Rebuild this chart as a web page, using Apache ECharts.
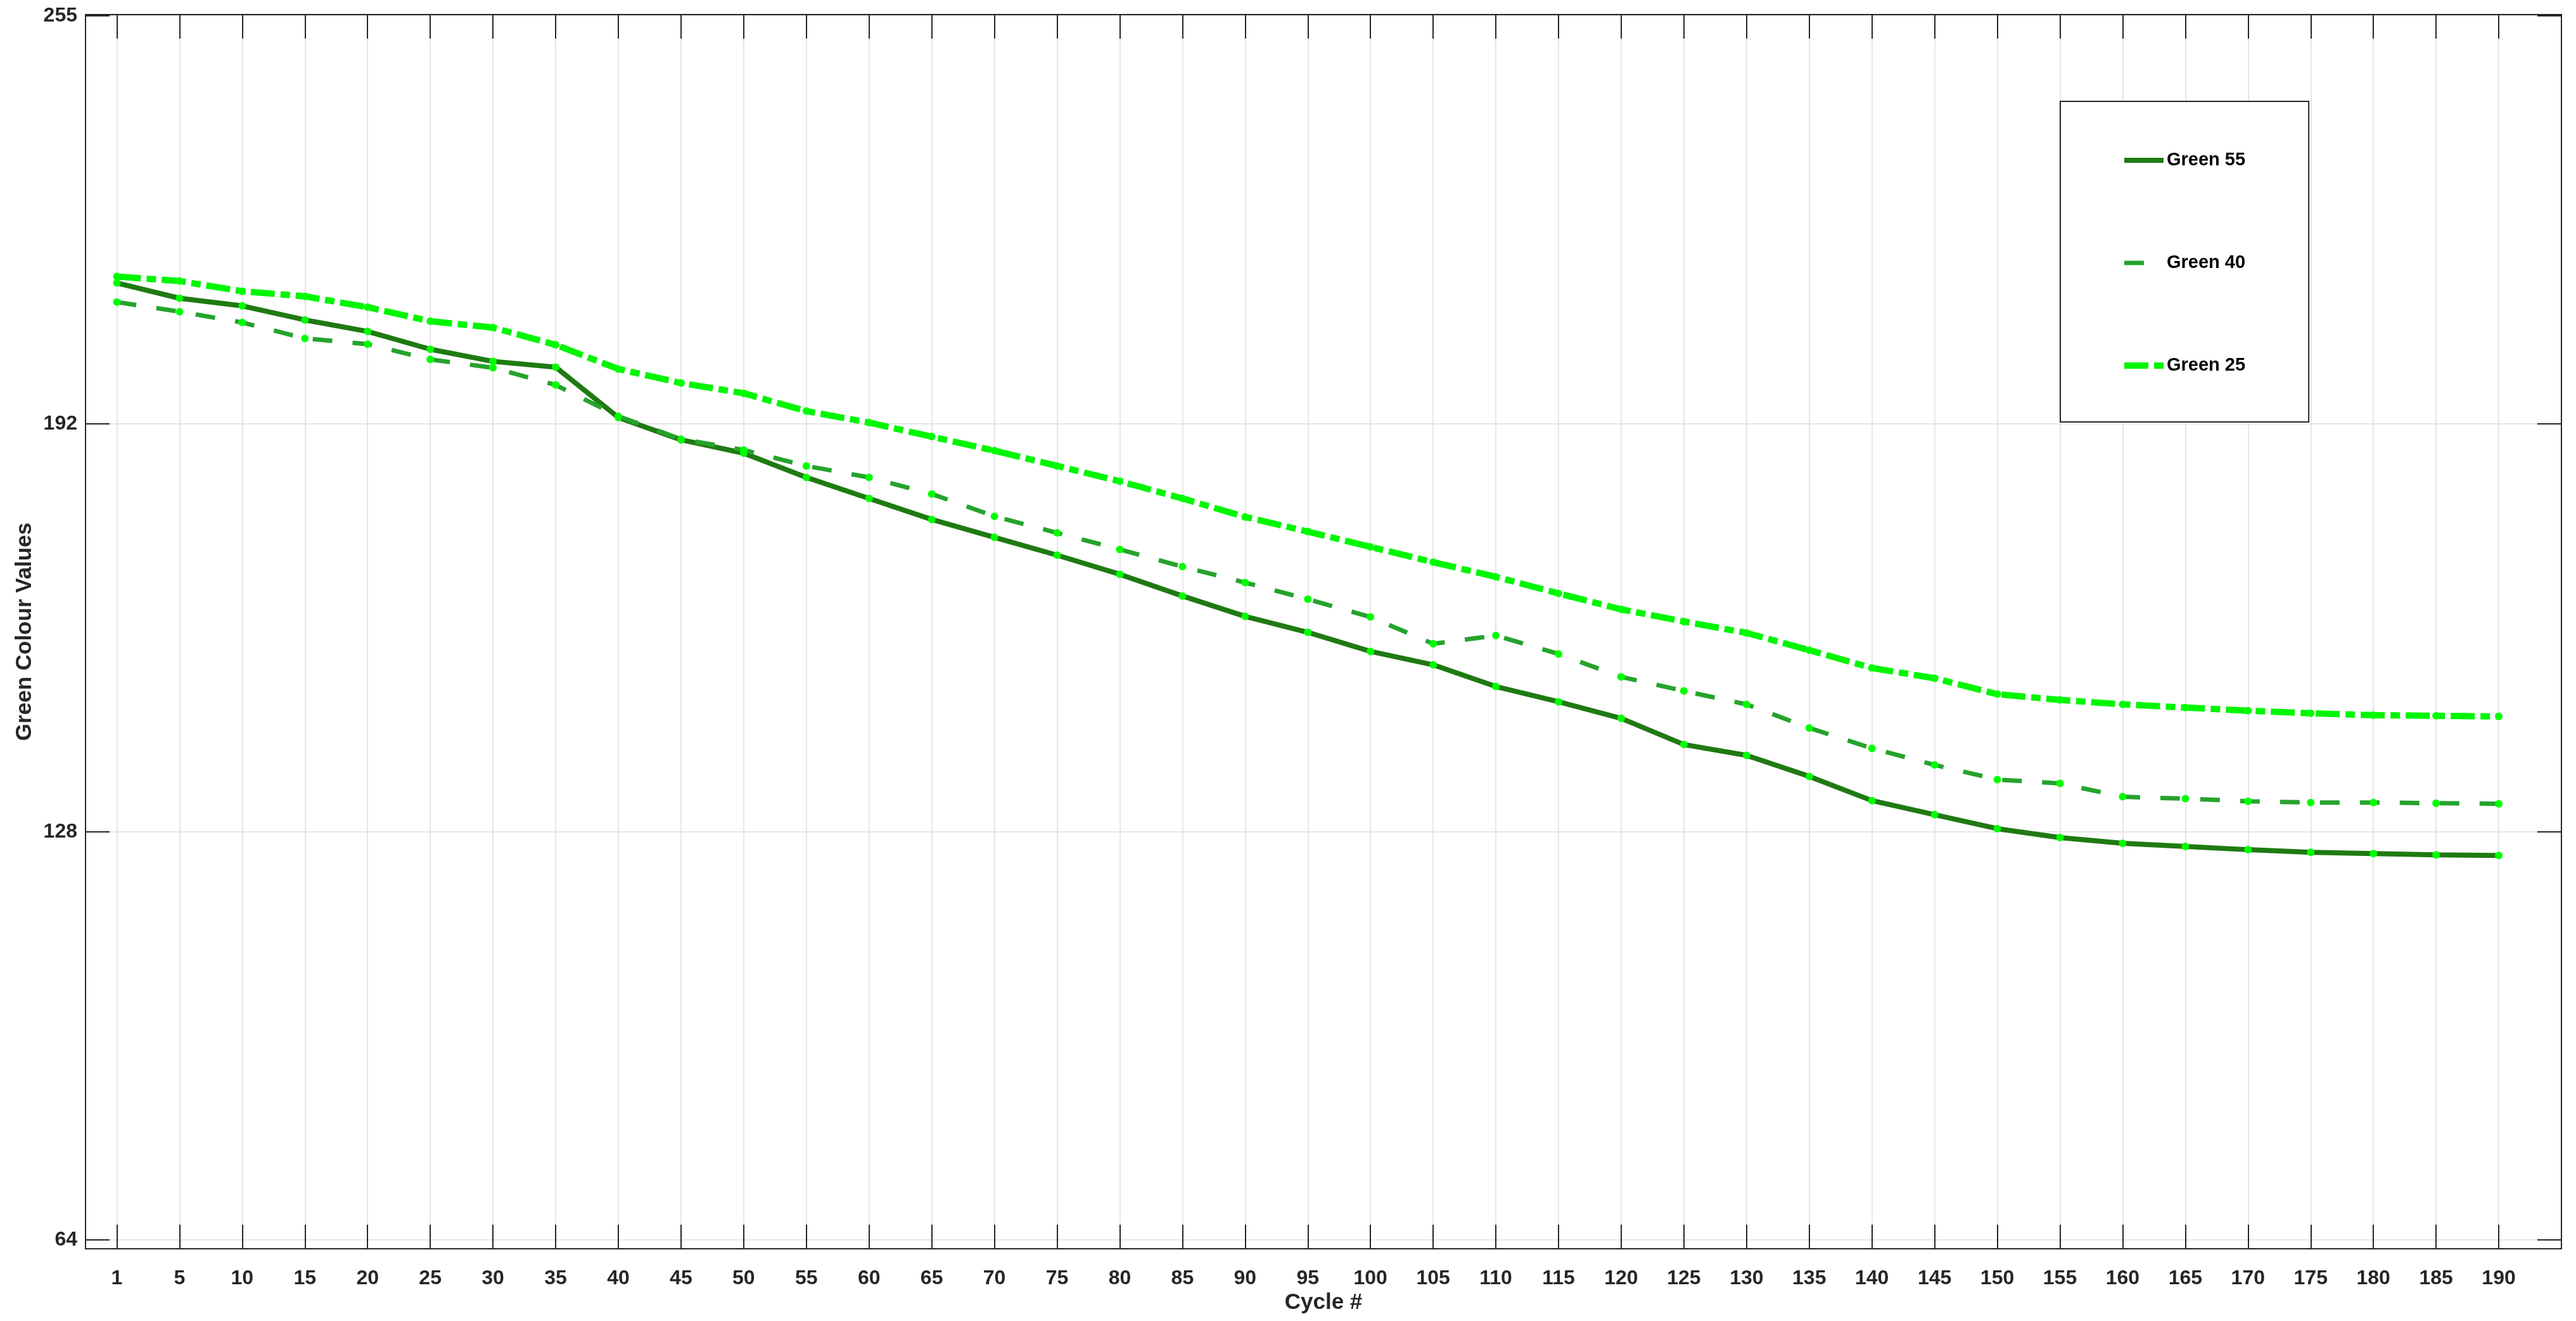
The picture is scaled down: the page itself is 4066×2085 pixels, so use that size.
<!DOCTYPE html>
<html>
<head>
<meta charset="utf-8">
<title>Green Colour Values</title>
<script src="https://cdn.jsdelivr.net/npm/echarts@6/dist/echarts.min.js"></script>
<style>
  html, body { margin: 0; padding: 0; background: #fff; }
  #chart { width: 4066px; height: 2085px; }
</style>
</head>
<body>
<div id="chart"></div>
<script>
// cycle numbers shown under each tick (points are equally spaced, one per tick)
const cycleLabels = [1, 5, 10, 15, 20, 25, 30, 35, 40, 45, 50, 55, 60, 65, 70, 75, 80, 85, 90, 95,
  100, 105, 110, 115, 120, 125, 130, 135, 140, 145, 150, 155, 160, 165, 170, 175, 180, 185, 190]
// y ticks sit every 64, the top one is labelled 255
const yTickValues = [64, 128, 192, 256]
const yTickLabels = ['64', '128', '192', '255']

const green55 = [214.1, 211.7, 210.5, 208.3, 206.5, 203.7, 201.8, 200.9, 193.0, 189.5,
  187.4, 183.6, 180.3, 177.0, 174.2, 171.4, 168.4, 165.0, 161.8, 159.3,
  156.3, 154.2, 150.8, 148.4, 145.8, 141.7, 140.0, 136.7, 132.9, 130.7,
  128.5, 127.1, 126.2, 125.7, 125.2, 124.8, 124.6, 124.4, 124.3]
const green40 = [211.1, 209.6, 207.9, 205.4, 204.5, 202.1, 200.8, 198.1, 193.2, 189.6,
  187.9, 185.4, 183.6, 181.0, 177.5, 174.9, 172.3, 169.6, 167.1, 164.5,
  161.7, 157.5, 158.8, 155.9, 152.3, 150.1, 148.0, 144.3, 141.1, 138.5,
  136.2, 135.6, 133.5, 133.2, 132.8, 132.6, 132.6, 132.5, 132.4]
const green25 = [215.1, 214.4, 212.8, 212.0, 210.3, 208.1, 207.1, 204.4, 200.6, 198.4,
  196.8, 194.0, 192.2, 190.0, 187.8, 185.4, 183.0, 180.3, 177.4, 175.1,
  172.7, 170.3, 168.0, 165.4, 162.9, 161.0, 159.2, 156.5, 153.7, 152.1,
  149.6, 148.7, 148.0, 147.5, 147.0, 146.6, 146.3, 146.2, 146.1]

const FONT = '"Liberation Sans", Arial, Helvetica, sans-serif'
const AXIS_COLOR = '#262626'
const tickPositions = cycleLabels.map((c, i) => i + 1)

function toPoints(values) {
  return values.map((v, i) => [i + 1, v])
}

function baseAxis(extra) {
  return Object.assign({
    type: 'value',
    axisLine: { show: true, onZero: false, lineStyle: { color: AXIS_COLOR, width: 2 } },
    axisTick: { show: true, inside: true, length: 38, lineStyle: { color: AXIS_COLOR, width: 2 } },
    axisLabel: { show: false },
    splitLine: { show: false }
  }, extra)
}

function ticks(values) {
  return { show: true, inside: true, length: 38, customValues: values,
    lineStyle: { color: AXIS_COLOR, width: 2 } }
}

const chart = echarts.init(document.getElementById('chart'))

const labelStyle = {
  color: AXIS_COLOR,
  fontFamily: FONT,
  fontWeight: 'bold',
  fontSize: 32
}

const lineStyles = {
  'Green 55': { color: '#1f7a12', width: 8, type: 'solid' },
  'Green 40': { color: '#25a32c', width: 7, type: [31, 32] },
  'Green 25': { color: '#00f500', width: 10, type: [38, 9, 15, 9] }
}

function makeSeries(name, values, z) {
  return {
    name: name,
    type: 'line',
    data: toPoints(values),
    symbol: 'circle',
    symbolSize: 12,
    showSymbol: true,
    z: z,
    itemStyle: { color: '#00ff00', borderWidth: 0 },
    lineStyle: lineStyles[name],
    emphasis: { disabled: true }
  }
}

chart.setOption({
  animation: false,
  backgroundColor: '#ffffff',
  grid: { left: 135, right: 23, top: 23, bottom: 114, containLabel: false },
  xAxis: [
    baseAxis({
      position: 'bottom',
      min: 0.5,
      max: 40,
      axisTick: ticks(tickPositions),
      axisLabel: Object.assign({
        show: true,
        margin: 31,
        customValues: tickPositions,
        formatter: v => String(cycleLabels[Math.round(v) - 1])
      }, labelStyle),
      splitLine: { show: true, lineStyle: { color: '#dedede', width: 1.5 } },
      name: 'Cycle #',
      nameLocation: 'middle',
      nameGap: 67,
      nameTextStyle: { color: AXIS_COLOR, fontFamily: FONT, fontWeight: 'bold', fontSize: 35 }
    }),
    baseAxis({
      position: 'top',
      min: 0.5,
      max: 40,
      axisTick: ticks(tickPositions)
    })
  ],
  yAxis: [
    baseAxis({
      position: 'left',
      min: 62.6,
      max: 256.2,
      axisTick: ticks(yTickValues),
      axisLabel: Object.assign({
        show: true,
        margin: 13,
        customValues: yTickValues,
        formatter: v => yTickLabels[yTickValues.indexOf(v)]
      }, labelStyle),
      splitLine: { show: true, lineStyle: { color: '#dedede', width: 1.5 } },
      name: 'Green Colour Values',
      nameLocation: 'middle',
      nameRotate: 90,
      nameGap: 78,
      nameTextStyle: { color: AXIS_COLOR, fontFamily: FONT, fontWeight: 'bold', fontSize: 35 }
    }),
    baseAxis({
      position: 'right',
      min: 62.6,
      max: 256.2,
      axisTick: ticks(yTickValues)
    })
  ],
  legend: {
    orient: 'vertical',
    left: 3252,
    top: 160,
    padding: [78, 100, 74, 96],
    itemWidth: 62,
    itemHeight: 10,
    itemGap: 132,
    borderColor: AXIS_COLOR,
    borderWidth: 2,
    backgroundColor: '#ffffff',
    selectedMode: false,
    itemStyle: { opacity: 0 },
    lineStyle: { width: 'inherit' },
    textStyle: {
      color: '#000000',
      fontFamily: FONT,
      fontWeight: 'bold',
      fontSize: 29,
      lineHeight: 30
    },
    data: Object.keys(lineStyles).map(name => ({ name: name, lineStyle: lineStyles[name] }))
  },
  series: [
    makeSeries('Green 55', green55, 3),
    makeSeries('Green 40', green40, 4),
    makeSeries('Green 25', green25, 5)
  ]
})
</script>
</body>
</html>
